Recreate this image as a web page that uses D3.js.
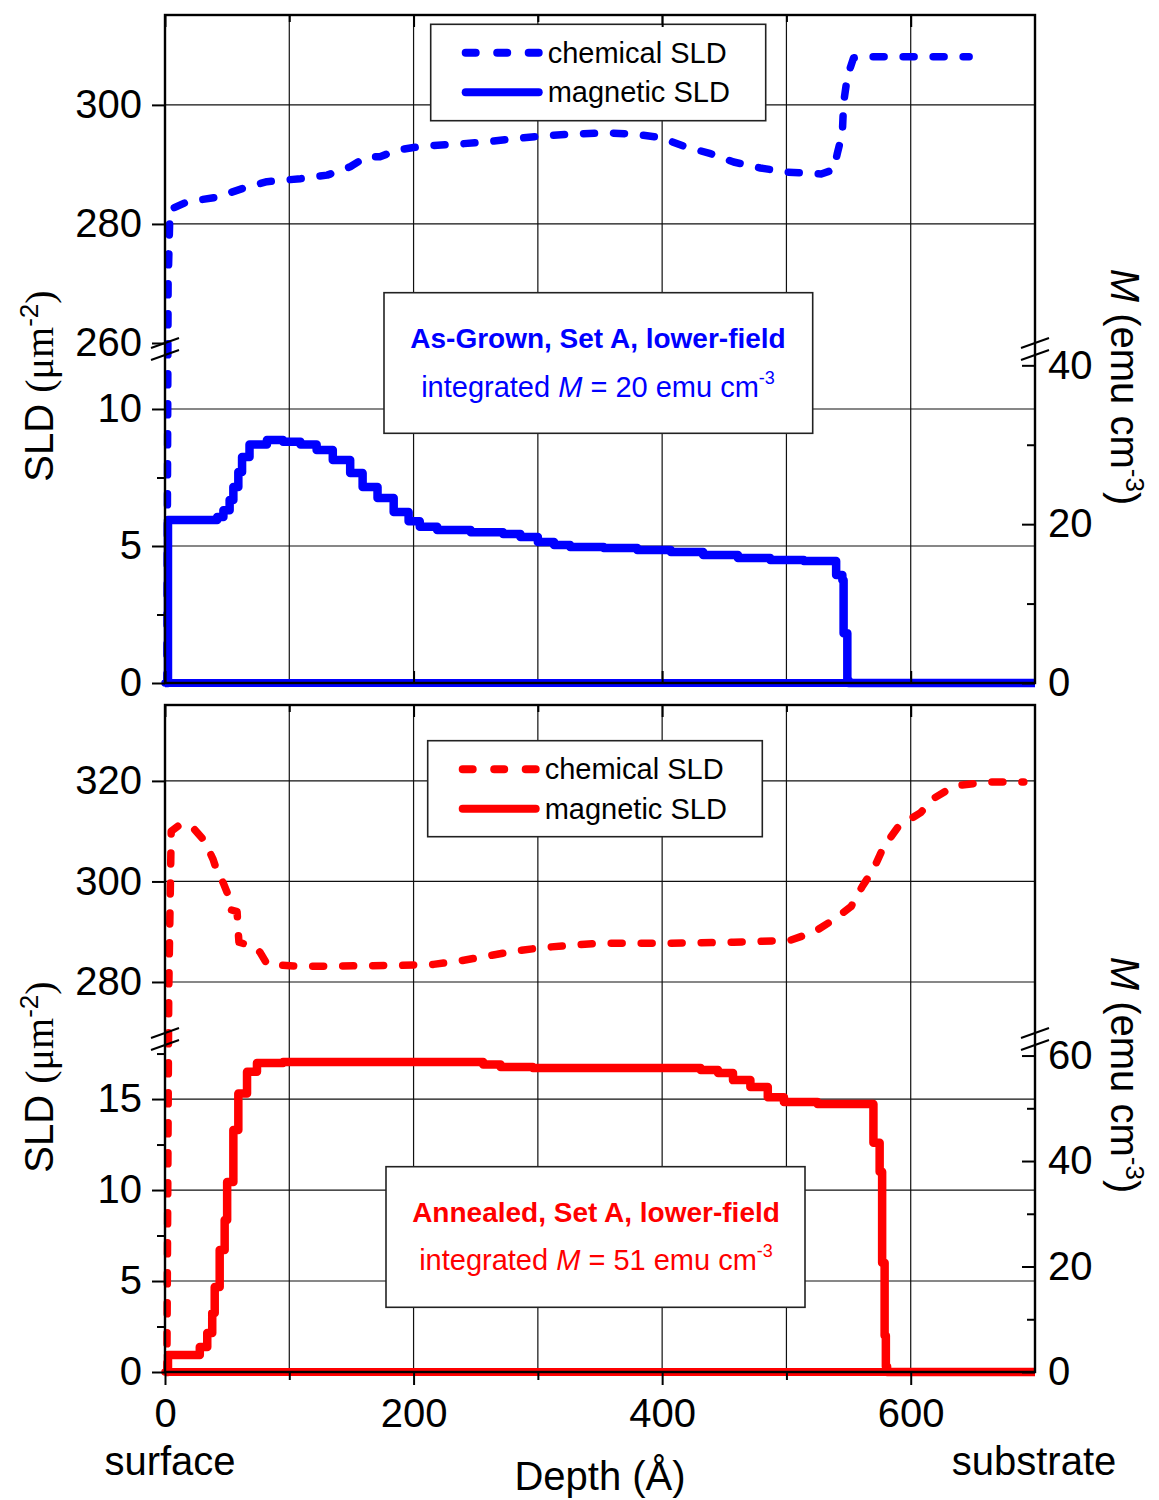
<!DOCTYPE html>
<html>
<head>
<meta charset="utf-8">
<script src="https://cdn.jsdelivr.net/npm/d3@7"></script>
<style>
    body { margin: 0; background: #fff; }
    svg { display: block; font-family: "Liberation Sans", Arial, sans-serif; }
</style>
</head>
<body>
<div id="chart"></div>
<script>
// depth axis (Angstrom)
const depthMajor = [0, 200, 400, 600];
const depthMinor = [100, 300, 500];
const depthGrid = [100, 200, 300, 400, 500, 600];

// As-grown sample: [depth, SLD]
const asGrownChemical = [[0, 0], [1.5, 0], [2.5, 270], [4, 282.4], [17.7, 283.7], [42, 284.5], [63, 286], [82, 287.1],
    [109, 287.6], [130.5, 288.2], [149, 289.6], [162, 291.3], [173, 291.3], [187, 292.4], [208, 293.1], [235, 293.4],
    [259, 293.8], [280, 294.3], [304.5, 294.8], [329, 295.1], [356, 295.3], [377, 295.1], [399, 294.5], [417, 293.1],
    [439, 291.8], [457.5, 290.4], [479, 289.4], [501, 288.7], [528, 288.4], [538, 289.1], [541, 291.9], [545, 295.3],
    [546, 300.3], [549, 304.7], [554, 307.9], [560, 308.1], [647, 308.1]];
const asGrownMagnetic = [[0, 0], [2.4, 5.95], [36, 5.95], [42, 6.06], [47, 6.3], [52, 6.68], [55, 7.15], [59, 7.7],
    [62, 8.25], [68, 8.7], [82, 8.87], [95, 8.8], [109, 8.7], [122, 8.5], [135, 8.14], [149, 7.66], [159, 7.15],
    [171, 6.75], [184, 6.24], [196, 5.9], [205, 5.7], [219, 5.58], [246, 5.5], [272, 5.44], [286, 5.33], [300, 5.15],
    [313, 5.04], [326, 4.96], [353, 4.93], [380, 4.85], [407, 4.78], [433, 4.67], [461, 4.56], [487, 4.49],
    [514, 4.45], [540, 3.94], [545, 3.76], [546, 1.82], [549, 0.1], [550, 0], [700, 0]];
const asGrownZero = [[0, 0], [700, 0]];
const asGrownLowTicks = [0, 5, 10];
const asGrownLowMinor = [2.5, 7.5];
const asGrownUpTicks = [260, 280, 300];
const asGrownMTicks = [0, 20, 40];
const asGrownMMinor = [10, 30];

// Annealed sample: [depth, SLD]
const annealedChemical = [[0, 0], [1.5, 0], [3, 278], [5, 310], [12, 311.3], [21.7, 310.9], [30.6, 308.4], [33.8, 307],
    [38.7, 304.4], [41.9, 302], [46.7, 299.8], [50, 297.8], [52.4, 294.4], [58, 294], [58.8, 290.4], [59.5, 287.9],
    [70.9, 287.1], [76.5, 285.9], [82.2, 283.5], [108.7, 283.1], [189, 283.3], [216, 283.5], [235, 284.1], [256, 285],
    [278, 286], [302, 286.8], [326, 287.3], [350, 287.7], [404, 287.7], [457.5, 287.9], [503, 288.3], [522, 289.9],
    [538, 292.4], [552, 295], [561, 299], [570, 302.4], [578, 306.8], [590, 310.9], [608, 313.7], [619, 316.6],
    [635, 319], [662, 319.8], [691, 319.8]];
const annealedMagnetic = [[0, 0], [2.4, 0.93], [22.6, 0.93], [28, 1.37], [34, 2.14], [38, 3.24], [40, 4.67], [44, 6.7],
    [48, 8.35], [50, 10.44], [55, 13.3], [59, 15.3], [66, 16.5], [74, 16.98], [95, 17.03], [243, 17.03], [256, 16.9],
    [270, 16.76], [296, 16.7], [417, 16.7], [431, 16.6], [445, 16.43], [457, 16.04], [471, 15.66], [485, 15.1],
    [498, 14.84], [525, 14.73], [570, 12.6], [575, 11], [577, 6], [579, 2], [580, 0.3], [581, 0], [700, 0]];
const annealedZero = [[0, 0], [700, 0]];
const annealedLowTicks = [0, 5, 10, 15];
const annealedLowMinor = [2.5, 7.5, 12.5, 17.5];
const annealedUpTicks = [280, 300, 320];
const annealedMTicks = [0, 20, 40, 60];
const annealedMMinor = [10, 30, 50];

const legendNames = ["chemical SLD", "magnetic SLD"];
const sampleTitles = ["As-Grown, Set A, lower-field", "Annealed, Set A, lower-field"];
const integratedM = [20, 51];

const X0 = 165, X1 = 1035;

class ProfilePanel {
    constructor(svg, opts) {
        this.svg = svg;
        this.opts = opts;

        this.initVis()
    }
    initVis() {
        let vis = this;
        let o = vis.opts;

        vis.x = d3.scaleLinear().domain([0, 700]).range([X0, X1]);
        vis.yLow = d3.scaleLinear().domain(o.lowDomain).range(o.lowRange);
        vis.yUp = d3.scaleLinear().domain(o.upDomain).range(o.upRange);
        // piecewise scale so lines run through the axis break
        vis.yAll = d3.scaleLinear()
            .domain([o.lowDomain[0], o.lowDomain[1], o.upDomain[0], o.upDomain[1]])
            .range([o.lowRange[0], o.lowRange[1], o.upRange[0], o.upRange[1]]);
        vis.yM = d3.scaleLinear().domain(o.mDomain).range(o.lowRange);

        vis.g = vis.svg.append("g");

        vis.drawGrid()
        vis.drawLines()
        vis.drawBoxes()
        vis.drawAxes()
        vis.drawLabels()
    }
    drawGrid() {
        let vis = this;
        let o = vis.opts;
        let grid = vis.g.append("g").attr("stroke", "#111").attr("stroke-width", 1.2);

        grid.selectAll(".vgrid").data(depthGrid).join("line")
            .attr("class", "vgrid")
            .attr("x1", d => vis.x(d)).attr("x2", d => vis.x(d))
            .attr("y1", o.top).attr("y2", o.bottom);

        let hPos = o.lowTicks.filter(d => d > o.lowDomain[0]).map(d => vis.yLow(d))
            .concat(o.upTicks.filter(d => d > o.upDomain[0]).map(d => vis.yUp(d)));
        grid.selectAll(".hgrid").data(hPos).join("line")
            .attr("class", "hgrid")
            .attr("x1", X0).attr("x2", X1)
            .attr("y1", d => d).attr("y2", d => d);
    }
    drawLines() {
        let vis = this;
        let o = vis.opts;

        let chemLine = d3.line()
            .x(d => vis.x(d[0]))
            .y(d => vis.yAll(d[1]));
        let magLine = d3.line()
            .curve(d3.curveStepAfter)
            .x(d => vis.x(d[0]))
            .y(d => vis.yLow(d[1]));

        vis.g.append("path").datum(o.zero)
            .attr("d", magLine)
            .attr("fill", "none").attr("stroke", o.color).attr("stroke-width", 8);

        vis.g.append("path").datum(o.magnetic)
            .attr("d", magLine)
            .attr("fill", "none").attr("stroke", o.color).attr("stroke-width", 8.5)
            .attr("stroke-linejoin", "round");

        vis.g.append("path").datum(o.chemical)
            .attr("d", chemLine)
            .attr("fill", "none").attr("stroke", o.color).attr("stroke-width", 7.5)
            .attr("stroke-linecap", "round").attr("stroke-linejoin", "round")
            .attr("stroke-dasharray", "11,19");
    }
    drawBoxes() {
        let vis = this;
        let o = vis.opts;

        // legend
        let lg = vis.g.append("g").attr("transform", `translate(${o.legend.x},${o.legend.y})`);
        lg.append("rect")
            .attr("width", o.legend.w).attr("height", o.legend.h)
            .attr("fill", "#fff").attr("stroke", "#222").attr("stroke-width", 1.6);
        let rows = lg.selectAll(".row").data(legendNames).join("g")
            .attr("class", "row")
            .attr("transform", (d, i) => `translate(0, ${i === 0 ? 28.5 : 68})`);
        rows.append("line")
            .attr("x1", 35).attr("x2", 108)
            .attr("stroke", o.color).attr("stroke-width", 8)
            .attr("stroke-linecap", "round")
            .attr("stroke-dasharray", (d, i) => i === 0 ? "10,21.5" : null);
        rows.append("text")
            .attr("x", 117).attr("y", 10)
            .attr("font-size", 29).attr("fill", "#000")
            .text(d => d);

        // sample note
        let nb = vis.g.append("g");
        nb.append("rect")
            .attr("x", o.note.x).attr("y", o.note.y)
            .attr("width", o.note.w).attr("height", o.note.h)
            .attr("fill", "#fff").attr("stroke", "#222").attr("stroke-width", 1.6);
        nb.append("text")
            .attr("x", o.note.cx).attr("y", o.note.base1)
            .attr("text-anchor", "middle").attr("font-size", 28).attr("font-weight", "bold")
            .attr("fill", o.color)
            .text(sampleTitles[o.index]);
        let t2 = nb.append("text")
            .attr("x", o.note.cx).attr("y", o.note.base2)
            .attr("text-anchor", "middle").attr("font-size", 29)
            .attr("fill", o.color);
        t2.append("tspan").text("integrated ");
        t2.append("tspan").attr("font-style", "italic").text("M");
        t2.append("tspan").text(` = ${integratedM[o.index]} emu cm`);
        t2.append("tspan").attr("font-size", 18).attr("dy", -13).text("-3");
    }
    drawAxes() {
        let vis = this;
        let o = vis.opts;
        let fmt = d3.format("d");

        let style = g => {
            g.select(".domain").remove();
            g.selectAll(".tick line").attr("stroke", "#000").attr("stroke-width", 2);
            g.selectAll(".tick text").attr("font-size", 40).attr("fill", "#000")
                .attr("font-family", "Liberation Sans, Arial, sans-serif");
        };

        // left axis, lower and upper segments
        vis.g.append("g").attr("transform", `translate(${X0},0)`)
            .call(d3.axisLeft(vis.yLow).tickValues(o.lowTicks).tickSize(13).tickPadding(10).tickFormat(fmt))
            .call(style);
        vis.g.append("g").attr("transform", `translate(${X0},0)`)
            .call(d3.axisLeft(vis.yLow).tickValues(o.lowMinor).tickSize(8).tickFormat(""))
            .call(style);
        vis.g.append("g").attr("transform", `translate(${X0},0)`)
            .call(d3.axisLeft(vis.yUp).tickValues(o.upTicks).tickSize(13).tickPadding(10).tickFormat(fmt))
            .call(style);

        // right axis (M), ticks inward
        vis.g.append("g").attr("transform", `translate(${X1},0)`)
            .call(d3.axisRight(vis.yM).tickValues(o.mTicks).tickSize(-13).tickPadding(13).tickFormat(fmt))
            .call(style);
        vis.g.append("g").attr("transform", `translate(${X1},0)`)
            .call(d3.axisRight(vis.yM).tickValues(o.mMinor).tickSize(-8).tickFormat(""))
            .call(style);

        // top edge, ticks inward
        vis.g.append("g").attr("transform", `translate(0,${o.top})`)
            .call(d3.axisTop(vis.x).tickValues(depthMajor).tickSize(-12).tickFormat(""))
            .call(style);
        vis.g.append("g").attr("transform", `translate(0,${o.top})`)
            .call(d3.axisTop(vis.x).tickValues(depthMinor).tickSize(-7).tickFormat(""))
            .call(style);

        // bottom edge
        if (o.xLabels) {
            vis.g.append("g").attr("transform", `translate(0,${o.bottom})`)
                .call(d3.axisBottom(vis.x).tickValues(depthMajor).tickSize(13).tickPadding(14).tickFormat(fmt))
                .call(style);
            vis.g.append("g").attr("transform", `translate(0,${o.bottom})`)
                .call(d3.axisBottom(vis.x).tickValues(depthMinor).tickSize(8).tickFormat(""))
                .call(style);
        } else {
            vis.g.append("g").attr("transform", `translate(0,${o.bottom})`)
                .call(d3.axisBottom(vis.x).tickValues(depthMajor).tickSize(-12).tickFormat(""))
                .call(style);
        }

        // frame
        vis.g.append("rect")
            .attr("x", X0).attr("y", o.top)
            .attr("width", X1 - X0).attr("height", o.bottom - o.top)
            .attr("fill", "none").attr("stroke", "#000").attr("stroke-width", 2.4);

        // axis break marks
        let yb = [o.upRange[0], o.lowRange[1]];
        [X0, X1].forEach(function (cx) {
            vis.g.selectAll(null).data(yb).join("line")
                .attr("x1", cx - 14).attr("x2", cx + 14)
                .attr("y1", d => d + 5).attr("y2", d => d - 5)
                .attr("stroke", "#000").attr("stroke-width", 2);
        });
    }
    drawLabels() {
        let vis = this;
        let o = vis.opts;

        let sld = vis.g.append("text")
            .attr("transform", `translate(${o.sldLabel.x},${o.sldLabel.y}) rotate(-90)`)
            .attr("text-anchor", "middle").attr("font-size", 40).attr("fill", "#000");
        sld.append("tspan").text("SLD ");
        sld.append("tspan").attr("font-family", "Liberation Serif, Times New Roman, serif").text("(\u03bcm");
        sld.append("tspan").attr("font-size", 26).attr("dy", -15).text("-2");
        sld.append("tspan").attr("font-family", "Liberation Serif, Times New Roman, serif").attr("dy", 15).text(")");

        let m = vis.g.append("text")
            .attr("transform", `translate(${o.mLabel.x},${o.mLabel.y}) rotate(90)`)
            .attr("text-anchor", "middle").attr("font-size", 40).attr("fill", "#000");
        m.append("tspan").attr("font-style", "italic").text("M");
        m.append("tspan").text(" (emu cm");
        m.append("tspan").attr("font-size", 26).attr("dy", -15).text("-3");
        m.append("tspan").attr("dy", 15).text(")");
    }
}

const svg = d3.select("#chart").append("svg")
    .attr("width", 1159)
    .attr("height", 1500);

new ProfilePanel(svg, {
    index: 0, color: "#0000ff",
    top: 15, bottom: 683,
    lowDomain: [0, 11.97], lowRange: [683, 355],
    upDomain: [260, 315.1], upRange: [343, 15],
    mDomain: [0, 41.3],
    chemical: asGrownChemical, magnetic: asGrownMagnetic, zero: asGrownZero,
    lowTicks: asGrownLowTicks, lowMinor: asGrownLowMinor, upTicks: asGrownUpTicks,
    mTicks: asGrownMTicks, mMinor: asGrownMMinor,
    legend: {x: 430.7, y: 24.3, w: 335, h: 96.4},
    note: {x: 384, y: 292.7, w: 428.7, h: 140.6, cx: 598, base1: 348.3, base2: 396.7},
    sldLabel: {x: 53, y: 386}, mLabel: {x: 1111, y: 387},
    xLabels: false
});

new ProfilePanel(svg, {
    index: 1, color: "#ff0000",
    top: 705, bottom: 1372,
    lowDomain: [0, 17.97], lowRange: [1372, 1045],
    upDomain: [269.85, 335.1], upRange: [1033, 705],
    mDomain: [0, 62],
    chemical: annealedChemical, magnetic: annealedMagnetic, zero: annealedZero,
    lowTicks: annealedLowTicks, lowMinor: annealedLowMinor, upTicks: annealedUpTicks,
    mTicks: annealedMTicks, mMinor: annealedMMinor,
    legend: {x: 427.7, y: 740.7, w: 334.6, h: 96},
    note: {x: 386, y: 1166.7, w: 419, h: 140.6, cx: 596, base1: 1221.7, base2: 1270},
    sldLabel: {x: 53, y: 1077}, mLabel: {x: 1111, y: 1075},
    xLabels: true
});

// depth axis captions
svg.append("text").attr("x", 170).attr("y", 1475)
    .attr("text-anchor", "middle").attr("font-size", 40).text("surface");
svg.append("text").attr("x", 1034).attr("y", 1475)
    .attr("text-anchor", "middle").attr("font-size", 40).text("substrate");
svg.append("text").attr("x", 600).attr("y", 1490)
    .attr("text-anchor", "middle").attr("font-size", 40).text("Depth (\u00c5)");
</script>
</body>
</html>
